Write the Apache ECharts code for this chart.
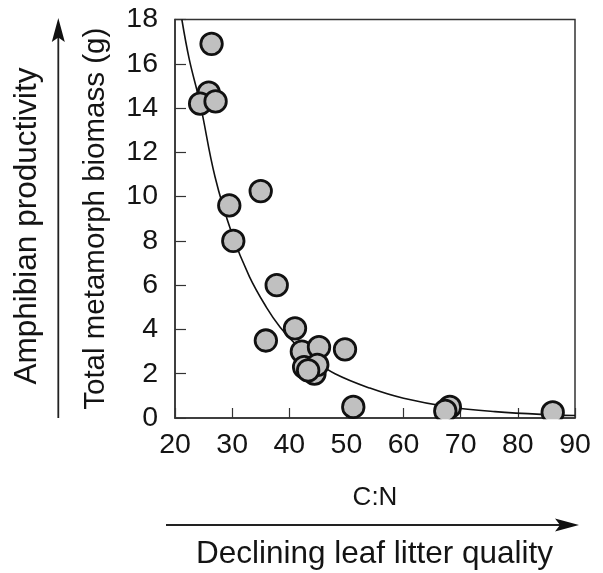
<!DOCTYPE html>
<html>
<head>
<meta charset="utf-8">
<style>
  html, body { margin: 0; padding: 0; background: #ffffff; }
  #chart { width: 603px; height: 573px; }
</style>
<script src="https://cdn.jsdelivr.net/npm/echarts@6/dist/echarts.min.js"></script>
</head>
<body>
<div id="chart"></div>
<script>
// Observed points: C:N ratio vs total metamorph biomass (g)
var cnRatio = [26.4, 25.9, 24.4, 27.1, 35.0, 29.5, 30.2, 37.8, 35.9, 41.0, 42.2, 45.2, 49.75, 42.6, 44.4, 44.9, 43.3, 51.2, 68.1, 67.3, 86.1];
var biomass = [16.9, 14.7, 14.2, 14.3, 10.25, 9.6, 8.0, 6.0, 3.5, 4.05, 3.0, 3.2, 3.1, 2.3, 2.0, 2.4, 2.15, 0.5, 0.5, 0.32, 0.25];

// Fitted curve at several C:N values
var curveX = [21.2, 22.5, 24.4, 27, 30, 33, 36, 38.4, 41, 44.2, 48, 54.1, 60, 68, 76, 86, 90];
var curveY = [18, 16.2, 14.2, 10.9, 8.3, 6.4, 5.0, 4.1, 3.36, 2.64, 2.0, 1.35, 0.89, 0.5, 0.29, 0.14, 0.11];

// Axis ticks
var xTicks = { min: 20, max: 90, step: 10 };
var yTicks = { min: 0, max: 18, step: 2 };

var xName = 'C:N';
var yName = 'Total metamorph biomass (g)';
var yOuterLabel = 'Amphibian productivity';
var xOuterLabel = 'Declining leaf litter quality';

var FONT = '"Liberation Sans", Arial, Helvetica, sans-serif';
var INK = '#141414';

var pts = cnRatio.map(function (x, i) { return [x, biomass[i]]; });
var curve = curveX.map(function (x, i) { return [x, curveY[i]]; });

var chart = echarts.init(document.getElementById('chart'), null, { renderer: 'canvas' });
chart.setOption({
  animation: false,
  backgroundColor: '#ffffff',
  grid: {
    left: 175, right: 28, top: 19.5, bottom: 155,
    show: true, borderColor: '#333333', borderWidth: 1.5, backgroundColor: 'transparent'
  },
  xAxis: {
    type: 'value',
    min: xTicks.min, max: xTicks.max, interval: xTicks.step,
    name: xName, nameLocation: 'middle', nameGap: 67,
    nameTextStyle: { fontFamily: FONT, fontSize: 26, color: INK },
    axisLine: { show: true, onZero: false, lineStyle: { color: '#333333', width: 1.5 } },
    axisTick: { show: true, inside: true, length: 10, lineStyle: { color: '#333333', width: 1.2 } },
    axisLabel: { fontFamily: FONT, fontSize: 28.5, color: INK, margin: 13 },
    splitLine: { show: false }
  },
  yAxis: {
    type: 'value',
    min: yTicks.min, max: yTicks.max, interval: yTicks.step,
    name: yName, nameLocation: 'middle', nameGap: 64, nameRotate: 90,
    nameTextStyle: { fontFamily: FONT, fontSize: 29.5, color: INK },
    axisLine: { show: true, onZero: false, lineStyle: { color: '#333333', width: 1.5 } },
    axisTick: { show: true, inside: true, length: 11, lineStyle: { color: '#333333', width: 1.2 } },
    axisLabel: { fontFamily: FONT, fontSize: 28.5, color: INK, margin: 17 },
    splitLine: { show: false }
  },
  series: [
    {
      type: 'line',
      data: curve,
      smooth: 0.4,
      showSymbol: false,
      clip: true,
      lineStyle: { color: '#111111', width: 1.6 },
      z: 2
    },
    {
      type: 'scatter',
      data: pts,
      symbol: 'circle',
      symbolSize: 21.5,
      clip: false,
      itemStyle: { color: '#c0c0c0', borderColor: '#111111', borderWidth: 2.8, opacity: 1 },
      z: 3
    }
  ],
  graphic: [
    // mask below the x axis so the markers look clipped by the frame
    { type: 'rect', shape: { x: 164, y: 419.3, width: 430, height: 13 }, style: { fill: '#ffffff' }, z: 50 },
    // vertical arrow
    { type: 'line', shape: { x1: 58.3, y1: 418, x2: 58.3, y2: 34 }, style: { stroke: '#222222', lineWidth: 1.8 }, z: 60 },
    { type: 'polygon', shape: { points: [[58.3, 18], [51.8, 42], [58.3, 37.5], [64.8, 42]] }, style: { fill: '#111111' }, z: 60 },
    // horizontal arrow
    { type: 'line', shape: { x1: 166, y1: 525, x2: 562, y2: 525 }, style: { stroke: '#222222', lineWidth: 1.8 }, z: 60 },
    { type: 'polygon', shape: { points: [[579, 525], [555, 518.5], [560, 525], [555, 531.5]] }, style: { fill: '#111111' }, z: 60 },
    // outer labels
    {
      type: 'text', x: 27, y: 226, rotation: Math.PI / 2, z: 60,
      style: { text: yOuterLabel, font: '31.5px ' + FONT, fill: INK, align: 'center', verticalAlign: 'middle' }
    },
    {
      type: 'text', x: 374.5, y: 554, z: 60,
      style: { text: xOuterLabel, font: '31.5px ' + FONT, fill: INK, align: 'center', verticalAlign: 'middle' }
    }
  ]
});
</script>
</body>
</html>
